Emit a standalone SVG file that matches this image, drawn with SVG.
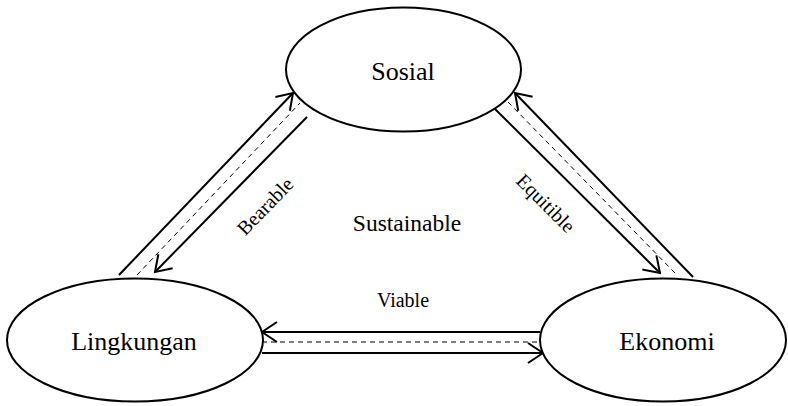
<svg xmlns="http://www.w3.org/2000/svg" width="788" height="406" viewBox="0 0 788 406">
<style>
.node{fill:#fff;stroke:#000;stroke-width:2}
.lbl{font-family:"Liberation Serif","Times New Roman",serif;fill:#000;text-anchor:middle}
.big{font-size:26px}
.edge{stroke:#000;stroke-width:2;fill:none}
.dash{stroke:#000;stroke-width:1;stroke-dasharray:5 4;fill:none}
</style>
<defs>
<marker id="arr" markerUnits="userSpaceOnUse" markerWidth="24" markerHeight="24" viewBox="-20 -12 24 24" refX="0" refY="0" orient="auto" overflow="visible">
<path d="M-15,-10 L0,0 L-15,10" fill="none" stroke="#000" stroke-width="2"/>
</marker>
</defs>
<rect width="788" height="406" fill="#fff"/>
<g id="connectors">
<line class="edge" x1="119" y1="275" x2="293" y2="93" marker-end="url(#arr)"/>
<line class="dash" x1="137" y1="275" x2="300" y2="103"/>
<line class="edge" x1="307" y1="117" x2="155" y2="272" marker-end="url(#arr)"/>
<line class="edge" x1="693" y1="277" x2="515" y2="93" marker-end="url(#arr)"/>
<line class="dash" x1="508" y1="102" x2="675" y2="273"/>
<line class="edge" x1="495" y1="109" x2="660" y2="273" marker-end="url(#arr)"/>
<line class="edge" x1="540" y1="332" x2="262" y2="332" marker-end="url(#arr)"/>
<line class="dash" x1="262" y1="342" x2="540" y2="342"/>
<line class="edge" x1="262" y1="353" x2="543" y2="353" marker-end="url(#arr)"/>
<text class="lbl" font-size="20" transform="translate(270,211) rotate(-46)" x="0" y="0">Bearable</text>
<text class="lbl" font-size="20" transform="translate(541,208) rotate(45)" x="0" y="0">Equitible</text>
<text class="lbl" font-size="20" x="403" y="307">Viable</text>
</g>
<g id="sosial">
<ellipse class="node" cx="403.5" cy="69.5" rx="117.5" ry="62"/>
<text class="lbl big" x="403" y="80">Sosial</text>
</g>
<g id="lingkungan">
<ellipse class="node" cx="135" cy="340" rx="128" ry="61.5"/>
<text class="lbl big" x="134" y="350">Lingkungan</text>
</g>
<g id="ekonomi">
<ellipse class="node" cx="663" cy="340" rx="123" ry="61.5"/>
<text class="lbl big" x="667" y="350">Ekonomi</text>
</g>
<g id="sustainable">
<text class="lbl" font-size="23.5" x="407" y="231">Sustainable</text>
</g>
</svg>
